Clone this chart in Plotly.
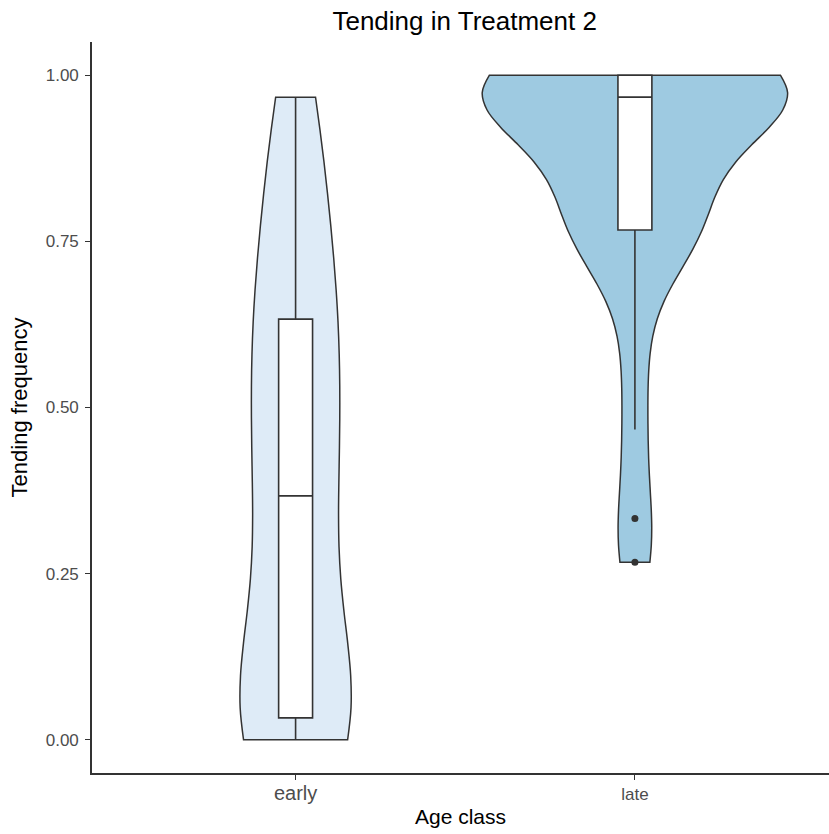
import numpy as np
import plotly.graph_objects as go

# ---- data (tending frequency per individual) ----
categories = ["early", "late"]
early_values = [0.0, 0.0, 0.0, 0.0,
                0.033, 0.033, 0.033, 0.033, 0.033,
                0.067, 0.133, 0.2, 0.267, 0.333,
                0.367, 0.367,
                0.4, 0.433, 0.5, 0.533, 0.6,
                0.633, 0.633, 0.633,
                0.7, 0.767, 0.833, 0.867, 0.933, 0.967]
late_values = [0.267, 0.333, 0.467, 0.6, 0.733,
               0.767, 0.767, 0.767, 0.767, 0.8, 0.833, 0.867, 0.9, 0.933,
               0.967, 0.967, 0.967, 0.967, 0.967, 0.967, 0.967,
               1.0, 1.0, 1.0, 1.0, 1.0, 1.0, 1.0, 1.0, 1.0]
fill_colors = ["#DEEBF7", "#9ECAE1"]
y_tick_values = [0.0, 0.25, 0.5, 0.75, 1.0]
title_text = "Tending in Treatment 2"
x_title = "Age class"
y_title = "Tending frequency"

groups = [early_values, late_values]


def nrd0(v):
    v = np.asarray(v, dtype=float)
    sd = v.std(ddof=1)
    q75, q25 = np.percentile(v, [75, 25])
    lo = min(sd, (q75 - q25) / 1.34)
    return 0.9 * lo * len(v) ** -0.2


def max_density(v, bw):
    v = np.asarray(v, dtype=float)
    grid = np.linspace(v.min(), v.max(), 512)
    d = np.exp(-0.5 * ((grid[:, None] - v[None, :]) / bw) ** 2).sum(axis=1)
    d /= len(v) * bw * np.sqrt(2 * np.pi)
    return d.max()


bws = [nrd0(g) for g in groups]
peaks = [max_density(g, b) for g, b in zip(groups, bws)]
widths = [0.9 * p / max(peaks) for p in peaks]

LINE = "#333333"
FONT = "Liberation Sans, Arial, Helvetica, sans-serif"

fig = go.Figure()
for cat, vals, bw, w, col in zip(categories, groups, bws, widths, fill_colors):
    fig.add_trace(go.Violin(
        x=[cat] * len(vals), y=vals, name=cat,
        bandwidth=bw, spanmode="hard", scalemode="width", width=w,
        fillcolor=col, opacity=1, line=dict(color=LINE, width=1.5),
        points=False, box_visible=False, meanline_visible=False,
        hoverinfo="skip", showlegend=False,
    ))
for cat, vals in zip(categories, groups):
    fig.add_trace(go.Box(
        x=[cat] * len(vals), y=vals, name=cat,
        width=0.1, fillcolor="white", line=dict(color=LINE, width=1.6),
        whiskerwidth=0, boxpoints="outliers", jitter=0, pointpos=0,
        marker=dict(color=LINE, size=7, line=dict(width=0)),
        showlegend=False,
    ))

fig.update_layout(
    width=829, height=834,
    margin=dict(l=92, r=0, t=42, b=61),
    paper_bgcolor="white", plot_bgcolor="white",
    violinmode="overlay", boxmode="overlay",
    showlegend=False,
    font=dict(family=FONT, color="black"),
    title=dict(text=title_text, x=464.7 / 829, xref="container", xanchor="center",
               y=1 - 21 / 834, yref="container", yanchor="middle",
               font=dict(size=26, color="black", family=FONT)),
    xaxis=dict(
        type="category", categoryorder="array", categoryarray=categories,
        range=[-0.6, 1.572], showgrid=False, zeroline=False,
        showline=True, linecolor=LINE, linewidth=1.6,
        ticks="outside", ticklen=5, tickwidth=1.4, tickcolor=LINE,
        tickvals=categories,
        ticktext=[categories[0], '<span style="font-size:17px">' + categories[1] + '</span>'],
        tickfont=dict(size=20, color="#4D4D4D", family=FONT),
        ticklabelstandoff=-4,
        title=dict(text=x_title, font=dict(size=21, color="black", family=FONT), standoff=7),
    ),
    yaxis=dict(
        range=[-0.05, 1.05], showgrid=False, zeroline=False,
        showline=True, linecolor=LINE, linewidth=1.6,
        ticks="outside", ticklen=5, tickwidth=1.4, tickcolor=LINE,
        tickvals=y_tick_values, tickformat=".2f",
        tickfont=dict(size=17, color="#4D4D4D", family=FONT),
        ticklabelstandoff=3,
        title=dict(text=y_title, font=dict(size=22, color="black", family=FONT), standoff=12),
    ),
)

fig.write_html("out.html")
